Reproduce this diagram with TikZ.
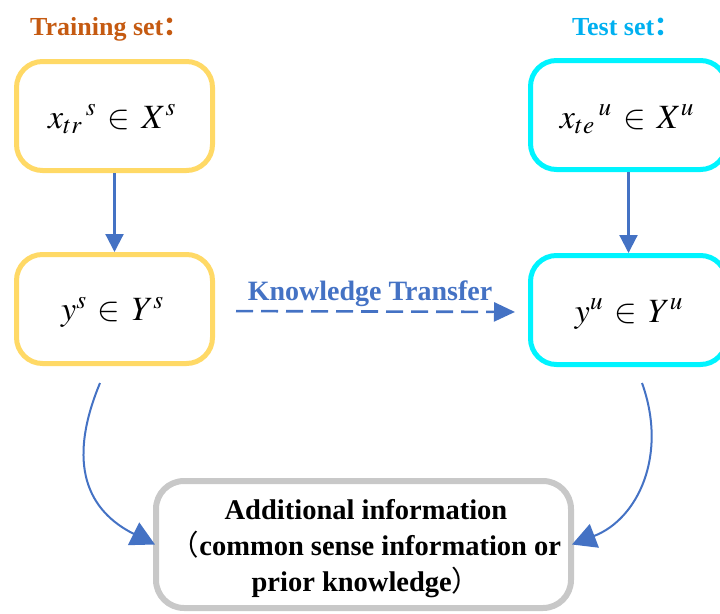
\documentclass[tikz,border=0pt]{standalone}
\usepackage{mathptmx}
\usepackage{fontspec}
\setmainfont{Liberation Serif}
\newfontfamily\cjk{Noto Sans CJK SC}
\usetikzlibrary{arrows.meta}

\definecolor{setyellow}{HTML}{FFD966}
\definecolor{setcyan}{HTML}{00F4FF}
\definecolor{infogray}{HTML}{C8C8C8}
\definecolor{flowblue}{HTML}{4472C4}
\definecolor{trainorange}{HTML}{C55A11}
\definecolor{testblue}{HTML}{00B0F0}

\tikzset{
  setbox/.style={draw, line width=5pt, rounded corners=26pt, fill=white,
    minimum width=196pt, minimum height=109pt, inner sep=0pt},
  trainbox/.style={setbox, draw=setyellow},
  testbox/.style={setbox, draw=setcyan},
  formula/.style={anchor=base, inner sep=0pt, font=\fontsize{34}{38}\selectfont},
  infobox/.style={draw=infogray, line width=6pt, rounded corners=28pt, fill=white,
    minimum width=415pt, minimum height=127pt, inner sep=0pt},
  infotext/.style={align=center, inner sep=0pt,
    font=\bfseries\fontsize{28.5}{36}\selectfont},
  headtext/.style={anchor=base west, inner sep=0pt, font=\bfseries\fontsize{26}{30}\selectfont},
  flowarrow/.style={draw=flowblue, line width=2.2pt,
    -{Triangle[length=18pt,width=18pt]}, color=flowblue},
  curvearrow/.style={draw=flowblue, line width=2pt,
    -{Triangle[length=24pt,width=25pt]}, color=flowblue},
  transferarrow/.style={draw=flowblue, line width=2.6pt, dash pattern=on 17pt off 8pt,
    -{Triangle[length=21pt,width=19pt]}, color=flowblue}
}

\begin{document}
\begin{tikzpicture}[x=1pt,y=-1pt]
\clip (0,0) rectangle (720,613);

% headings
\node[headtext, text=trainorange] (trainhead) at (30,35) {Training set{\cjk ：}};
\node[headtext, text=testblue] (testhead) at (572,35) {Test set{\cjk ：}};

% training side
\node[trainbox] (xs) at (114.5,116) {};
\node[trainbox] (ys) at (114.5,309) {};
\node[formula] (xsf) at (112,128) {$x_{tr}\,{}^{s}\,\in\,X^{s}$};
\node[formula] (ysf) at (112.5,320.5) {$y^{s}\,\in\,Y^{s}$};

% test side
\node[testbox] (xu) at (628.5,115) {};
\node[testbox] (yu) at (628.5,310) {};
\node[formula] (xuf) at (627,128) {$x_{te}\,{}^{u}\,\in\,X^{u}$};
\node[formula] (yuf) at (629,322) {$y^{u}\,\in\,Y^{u}$};

% shared knowledge
\node[infobox] (info) at (363.5,544.5) {};
\node[infotext] (infot) at (366,549)
  {Additional information\\{\cjk\mdseries （}common sense information or\\prior knowledge{\cjk\mdseries ）}};

% connectors
\draw[flowarrow] (xs.south) -- (ys.north);
\draw[flowarrow] (xu.south) -- (yu.north);

\draw[transferarrow, shorten <=21pt, shorten >=13pt]
  ([yshift=-2pt]ys.east) -- ([yshift=-2pt]yu.west);
\node[anchor=base, inner sep=0pt, text=flowblue,
      font=\bfseries\fontsize{28}{32}\selectfont] (ktlabel) at (370,300)
  {Knowledge Transfer};

\coordinate (lstart) at (100,383);
\coordinate (rstart) at (642,383);
\draw[curvearrow] (lstart) .. controls (66,465) and (88,511) .. ([xshift=2pt]info.west);
\draw[curvearrow] (rstart) .. controls (668,455) and (638,519) .. ([xshift=-2pt]info.east);
\end{tikzpicture}
\end{document}
